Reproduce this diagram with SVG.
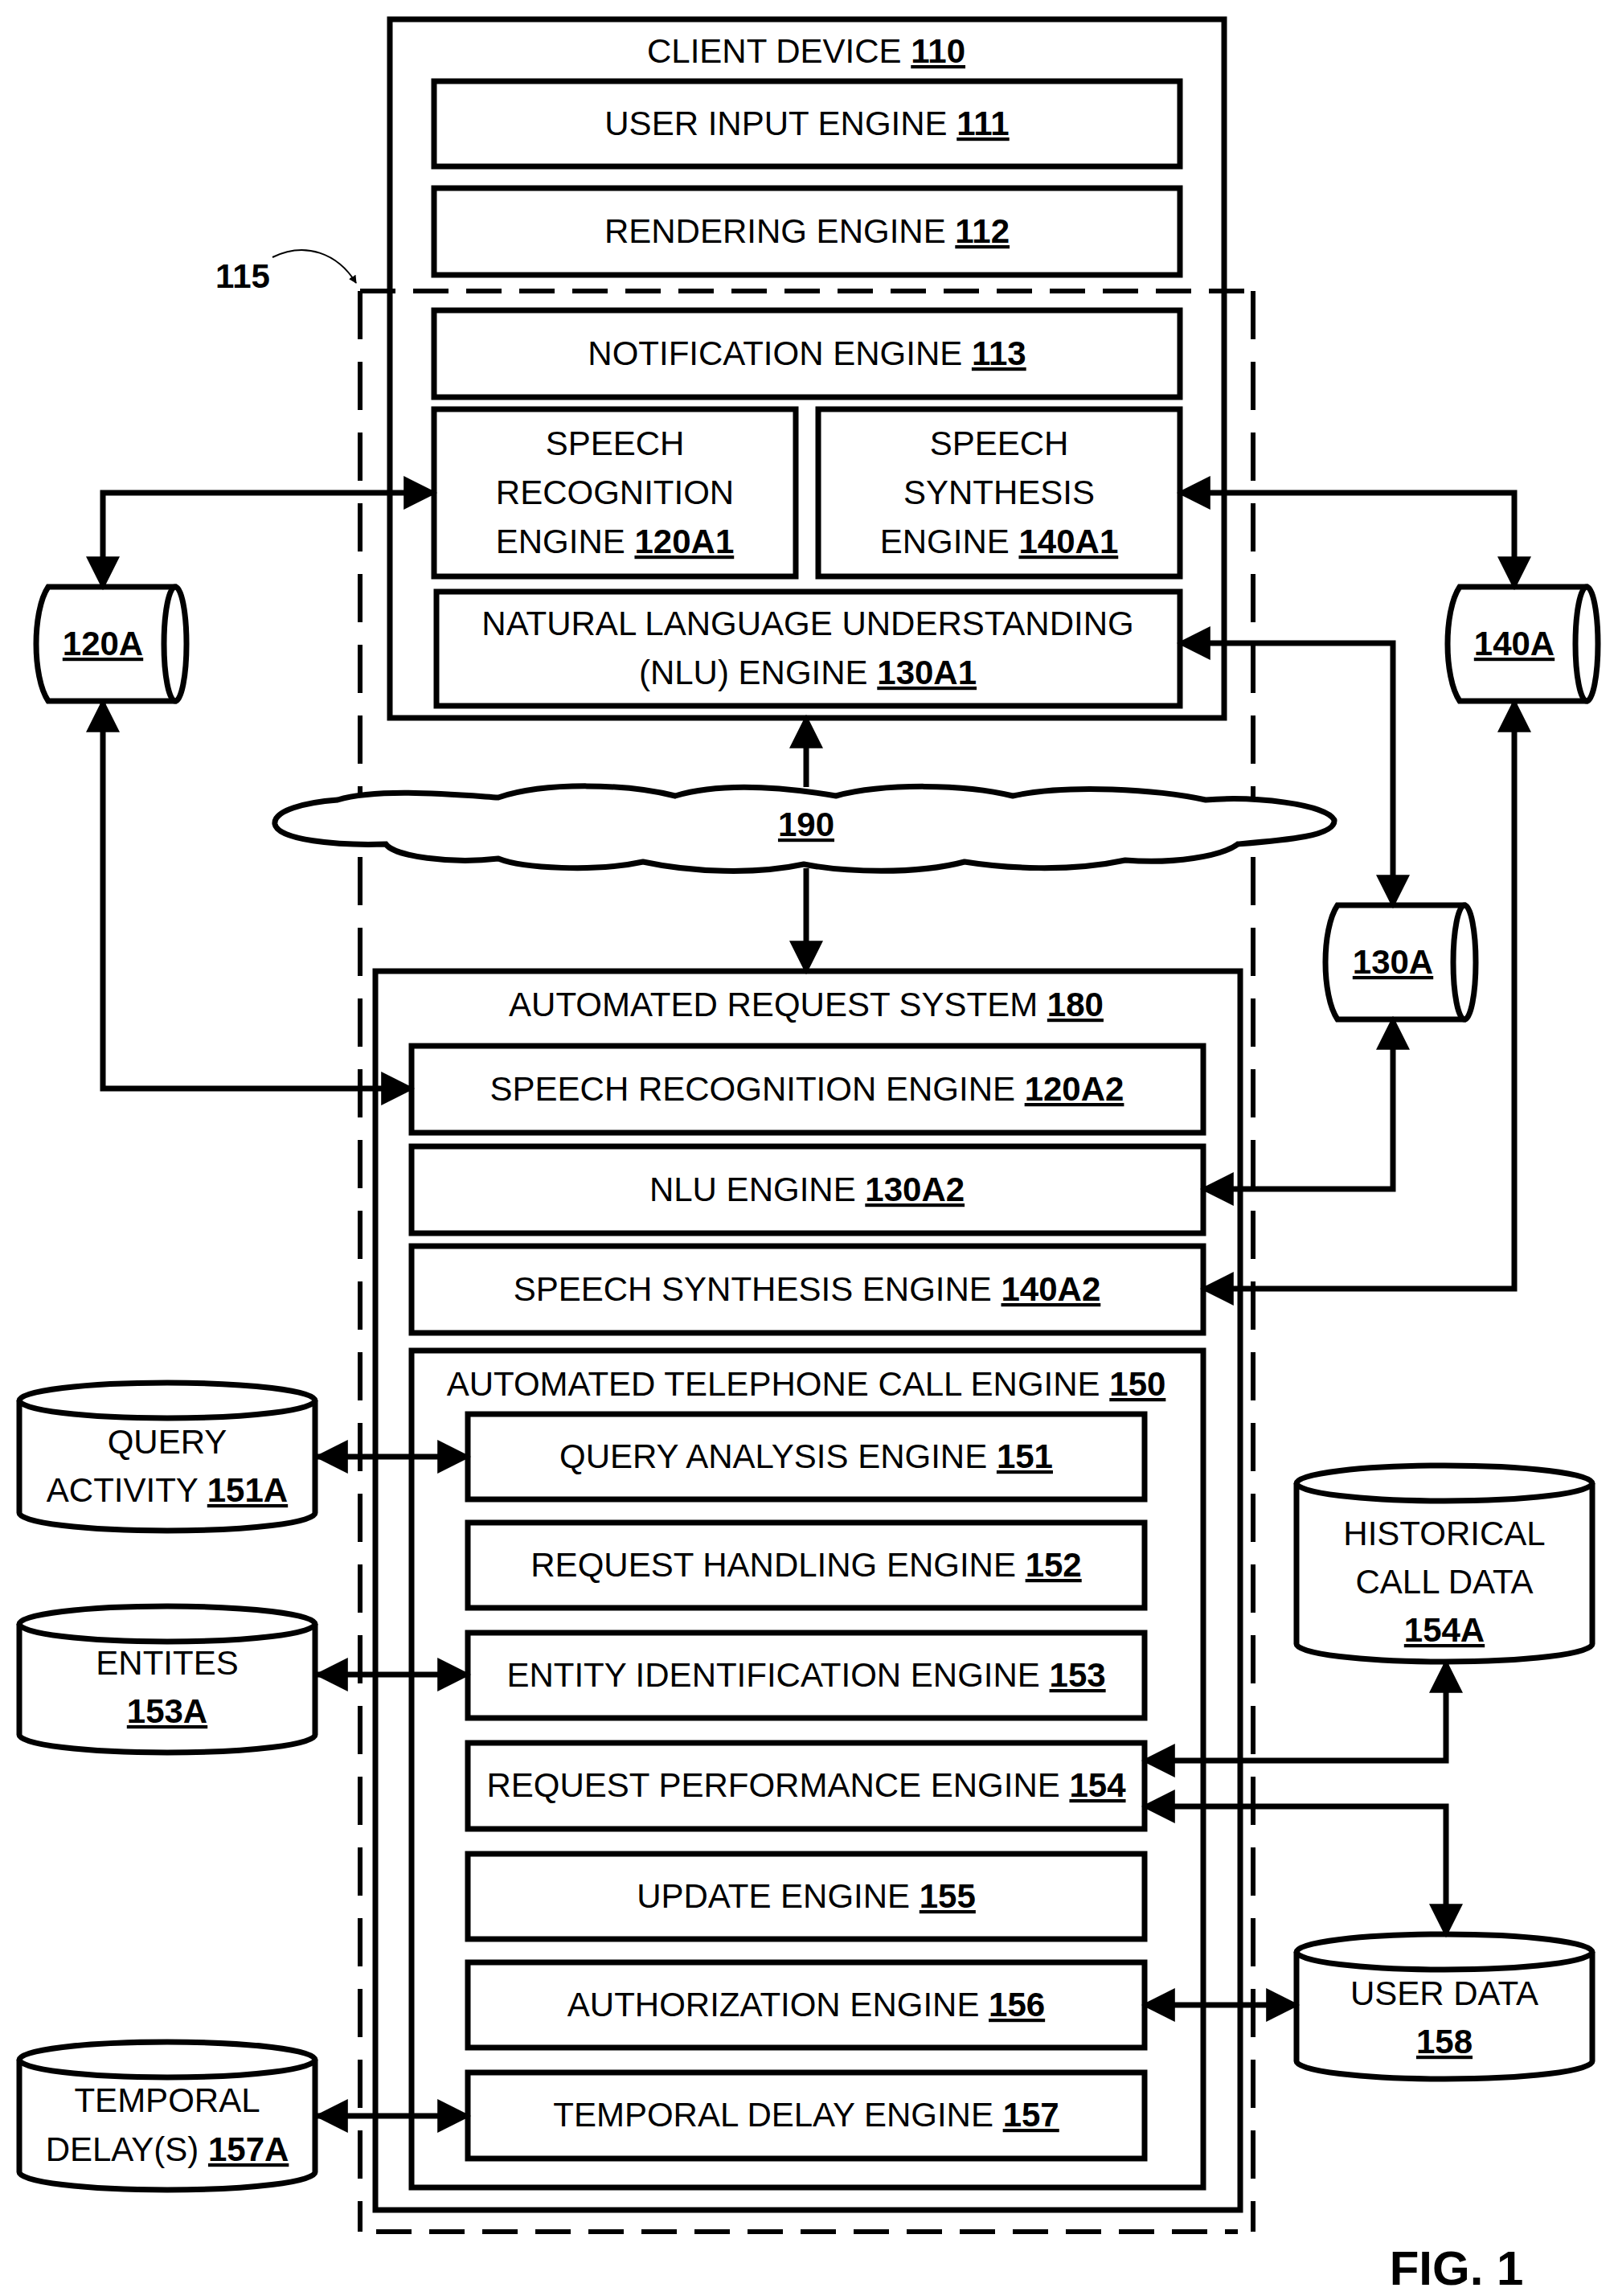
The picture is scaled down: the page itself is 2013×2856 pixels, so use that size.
<svg xmlns="http://www.w3.org/2000/svg" width="2013" height="2856" viewBox="0 0 2013 2856">
<style>
.b{fill:#fff;stroke:#000;stroke-width:7}
.t{font-family:"Liberation Sans",Arial,sans-serif;font-size:42px;text-anchor:middle;fill:#000}
.u{font-weight:bold;text-decoration:underline}
.c{fill:none;stroke:#000;stroke-width:7}
.d{fill:none;stroke:#000;stroke-width:6}
</style>
<defs>
<marker id="a" viewBox="0 0 10 10" refX="9" refY="5" markerWidth="6" markerHeight="6" orient="auto-start-reverse" markerUnits="strokeWidth"><path d="M0,0L10,5L0,10z"/></marker>
<marker id="s" viewBox="0 0 10 10" refX="9" refY="5" markerWidth="5" markerHeight="5" orient="auto-start-reverse" markerUnits="strokeWidth"><path d="M0,0L10,5L0,10z"/></marker>
</defs>
<g id="client110">
<rect class="b" x="485" y="24" width="1038" height="869"/>
<text class="t" x="1003" y="78">CLIENT DEVICE  <tspan class="u">110</tspan></text>
</g>
<g id="boundary115">
<path class="d" d="M448,362H1559" stroke-dasharray="44 22"/>
<path class="d" d="M448,362V2776M1559,362V2776" stroke-dasharray="60 28"/>
<path class="d" d="M468,2776H1540" stroke-dasharray="44 22"/>
<text class="t" x="302" y="358" font-weight="bold">115</text>
<path d="M339,320C380,300 420,315 443,352" fill="none" stroke="#000" stroke-width="2" marker-end="url(#s)"/>
</g>
<g id="n111"><rect class="b" x="540" y="101" width="928" height="106"/><text class="t" x="1004" y="168">USER INPUT ENGINE <tspan class="u">111</tspan></text></g>
<g id="n112"><rect class="b" x="540" y="234" width="928" height="108"/><text class="t" x="1004" y="302">RENDERING ENGINE <tspan class="u">112</tspan></text></g>
<g id="n113"><rect class="b" x="540" y="386" width="928" height="108"/><text class="t" x="1004" y="454">NOTIFICATION ENGINE <tspan class="u">113</tspan></text></g>
<g id="n120A1"><rect class="b" x="540" y="509" width="450" height="208"/><text class="t" x="765" y="566">SPEECH</text><text class="t" x="765" y="627">RECOGNITION</text><text class="t" x="765" y="688">ENGINE <tspan class="u">120A1</tspan></text></g>
<g id="n140A1"><rect class="b" x="1018" y="509" width="450" height="208"/><text class="t" x="1243" y="566">SPEECH</text><text class="t" x="1243" y="627">SYNTHESIS</text><text class="t" x="1243" y="688">ENGINE <tspan class="u">140A1</tspan></text></g>
<g id="n130A1"><rect class="b" x="543" y="736" width="925" height="142"/><text class="t" x="1005" y="790">NATURAL LANGUAGE UNDERSTANDING</text><text class="t" x="1005" y="851">(NLU) ENGINE <tspan class="u">130A1</tspan></text></g>
<g id="db120A"><path class="b" d="M60,730H218C236,760 236,842 218,872H60C40,842 40,760 60,730Z"/><ellipse class="b" cx="218" cy="801" rx="14" ry="71"/><text class="t" x="128" y="815"><tspan class="u">120A</tspan></text></g>
<g id="db140A"><path class="b" d="M1816,730H1974C1992,760 1992,842 1974,872H1816C1796,842 1796,760 1816,730Z"/><ellipse class="b" cx="1974" cy="801" rx="14" ry="71"/><text class="t" x="1884" y="815"><tspan class="u">140A</tspan></text></g>
<g id="db130A"><path class="b" d="M1664,1126H1822C1840,1156 1840,1238 1822,1268H1664C1644,1238 1644,1156 1664,1126Z"/><ellipse class="b" cx="1822" cy="1197" rx="14" ry="71"/><text class="t" x="1733" y="1211"><tspan class="u">130A</tspan></text></g>
<g id="cloud190">
<path class="b" d="M420,995C470,980 560,988 620,992C680,972 780,975 840,990C900,972 980,980 1040,990C1100,974 1200,975 1260,990C1330,975 1440,982 1500,995C1560,990 1650,1000 1660,1020C1662,1040 1600,1045 1540,1050C1520,1065 1460,1075 1400,1070C1330,1085 1250,1080 1200,1072C1140,1088 1050,1085 1000,1075C940,1088 860,1085 800,1072C740,1085 650,1080 620,1068C560,1075 490,1065 480,1050C420,1052 345,1045 342,1025C340,1008 380,998 420,995Z"/>
<text class="t" x="1003" y="1040"><tspan class="u">190</tspan></text>
</g>
<g id="ars180"><rect class="b" x="467" y="1208" width="1076" height="1541"/><text class="t" x="1003" y="1264">AUTOMATED REQUEST SYSTEM  <tspan class="u">180</tspan></text></g>
<g id="n120A2"><rect class="b" x="512" y="1301" width="985" height="108"/><text class="t" x="1004" y="1369">SPEECH RECOGNITION ENGINE <tspan class="u">120A2</tspan></text></g>
<g id="n130A2"><rect class="b" x="512" y="1426" width="985" height="108"/><text class="t" x="1004" y="1494">NLU ENGINE <tspan class="u">130A2</tspan></text></g>
<g id="n140A2"><rect class="b" x="512" y="1550" width="985" height="108"/><text class="t" x="1004" y="1618">SPEECH SYNTHESIS ENGINE <tspan class="u">140A2</tspan></text></g>
<g id="atce150"><rect class="b" x="512" y="1680" width="985" height="1041"/><text class="t" x="1003" y="1736">AUTOMATED TELEPHONE CALL ENGINE  <tspan class="u">150</tspan></text></g>
<g id="n151"><rect class="b" x="582" y="1759" width="842" height="106"/><text class="t" x="1003" y="1826">QUERY ANALYSIS ENGINE <tspan class="u">151</tspan></text></g>
<g id="n152"><rect class="b" x="582" y="1894" width="842" height="106"/><text class="t" x="1003" y="1961">REQUEST HANDLING ENGINE <tspan class="u">152</tspan></text></g>
<g id="n153"><rect class="b" x="582" y="2031" width="842" height="106"/><text class="t" x="1003" y="2098">ENTITY IDENTIFICATION ENGINE <tspan class="u">153</tspan></text></g>
<g id="n154"><rect class="b" x="582" y="2168" width="842" height="107"/><text class="t" x="1003" y="2235">REQUEST PERFORMANCE ENGINE <tspan class="u">154</tspan></text></g>
<g id="n155"><rect class="b" x="582" y="2306" width="842" height="106"/><text class="t" x="1003" y="2373">UPDATE ENGINE <tspan class="u">155</tspan></text></g>
<g id="n156"><rect class="b" x="582" y="2441" width="842" height="106"/><text class="t" x="1003" y="2508">AUTHORIZATION ENGINE <tspan class="u">156</tspan></text></g>
<g id="n157"><rect class="b" x="582" y="2578" width="842" height="107"/><text class="t" x="1003" y="2645">TEMPORAL DELAY ENGINE <tspan class="u">157</tspan></text></g>
<g id="db151A"><path class="b" d="M24,1742V1882A184,22 0 0 0 392,1882V1742"/><ellipse class="b" cx="208" cy="1742" rx="184" ry="22"/><text class="t" x="208" y="1808">QUERY</text><text class="t" x="208" y="1868">ACTIVITY <tspan class="u">151A</tspan></text></g>
<g id="db153A"><path class="b" d="M24,2020V2158A184,22 0 0 0 392,2158V2020"/><ellipse class="b" cx="208" cy="2020" rx="184" ry="22"/><text class="t" x="208" y="2083">ENTITES</text><text class="t" x="208" y="2143"><tspan class="u">153A</tspan></text></g>
<g id="db157A"><path class="b" d="M24,2562V2702A184,22 0 0 0 392,2702V2562"/><ellipse class="b" cx="208" cy="2562" rx="184" ry="22"/><text class="t" x="208" y="2627">TEMPORAL</text><text class="t" x="208" y="2688">DELAY(S) <tspan class="u">157A</tspan></text></g>
<g id="db154A"><path class="b" d="M1613,1845V2045A184,22 0 0 0 1981,2045V1845"/><ellipse class="b" cx="1797" cy="1845" rx="184" ry="22"/><text class="t" x="1797" y="1922">HISTORICAL</text><text class="t" x="1797" y="1982">CALL DATA</text><text class="t" x="1797" y="2042"><tspan class="u">154A</tspan></text></g>
<g id="db158"><path class="b" d="M1613,2428V2564A184,22 0 0 0 1981,2564V2428"/><ellipse class="b" cx="1797" cy="2428" rx="184" ry="22"/><text class="t" x="1797" y="2494">USER DATA</text><text class="t" x="1797" y="2554"><tspan class="u">158</tspan></text></g>
<g id="connectors">
<path class="c" d="M128,730V613H540" marker-start="url(#a)" marker-end="url(#a)"/>
<path class="c" d="M1884,730V613H1468" marker-start="url(#a)" marker-end="url(#a)"/>
<path class="c" d="M1733,1126V800H1468" marker-start="url(#a)" marker-end="url(#a)"/>
<path class="c" d="M1003,979V893" marker-end="url(#a)"/>
<path class="c" d="M1003,1080V1208" marker-end="url(#a)"/>
<path class="c" d="M128,873V1354H512" marker-start="url(#a)" marker-end="url(#a)"/>
<path class="c" d="M1733,1268V1479H1497" marker-start="url(#a)" marker-end="url(#a)"/>
<path class="c" d="M1884,873V1603H1497" marker-start="url(#a)" marker-end="url(#a)"/>
<path class="c" d="M395,1812H582" marker-start="url(#a)" marker-end="url(#a)"/>
<path class="c" d="M395,2083H582" marker-start="url(#a)" marker-end="url(#a)"/>
<path class="c" d="M395,2632H582" marker-start="url(#a)" marker-end="url(#a)"/>
<path class="c" d="M1424,2494H1613" marker-start="url(#a)" marker-end="url(#a)"/>
<path class="c" d="M1424,2190H1799V2068" marker-start="url(#a)" marker-end="url(#a)"/>
<path class="c" d="M1424,2247H1799V2406" marker-start="url(#a)" marker-end="url(#a)"/>
</g>
<text class="t" x="1812" y="2842" style="font-size:60px;font-weight:bold">FIG. 1</text>
</svg>
